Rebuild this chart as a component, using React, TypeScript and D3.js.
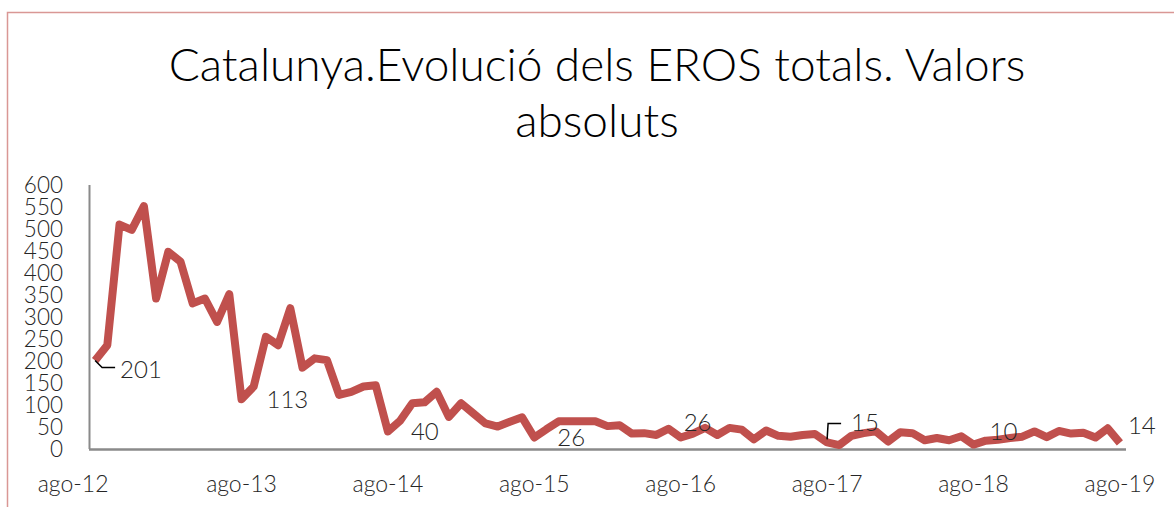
import React, { useEffect, useRef } from 'react'
import * as d3 from 'd3'

const monthNames = ['ene', 'feb', 'mar', 'abr', 'may', 'jun', 'jul', 'ago', 'sep', 'oct', 'nov', 'dic']
const years = [12, 13, 14, 15, 16, 17, 18, 19]

// monthly categories ago-12 .. ago-19
const categories: string[] = []
years.forEach(yr => monthNames.forEach((m, i) => {
    if ((yr === 12 && i < 7) || (yr === 19 && i > 7)) return
    categories.push(`${m}-${yr}`)
}))

const eros = [
    201, 236, 510, 498, 552, 342, 448, 426, 331, 342, 289, 352,
    113, 142, 255, 236, 320, 185, 206, 202, 123, 130, 142, 145,
    40, 64, 104, 106, 130, 73, 104, 81, 58, 51, 62, 72,
    26, 45, 63, 63, 63, 63, 52, 54, 35, 36, 32, 46,
    26, 35, 48, 32, 48, 44, 22, 42, 30, 28, 32, 34,
    15, 9, 30, 36, 40, 17, 38, 36, 20, 25, 20, 29,
    10, 19, 21, 25, 28, 40, 27, 41, 35, 37, 26, 47,
    14
]

const yTicks = [0, 50, 100, 150, 200, 250, 300, 350, 400, 450, 500, 550, 600]
const xTickLabels = ['ago-12', 'ago-13', 'ago-14', 'ago-15', 'ago-16', 'ago-17', 'ago-18', 'ago-19']
const labelled = ['ago-12', 'ago-13', 'ago-14', 'ago-15', 'ago-16', 'ago-17', 'ago-18', 'ago-19']

const titleLines = ['Catalunya.Evolució dels EROS totals. Valors', 'absoluts']

const W = 1174, H = 507
const FONT = 'Lato, "Open Sans", sans-serif'

export default function App() {
    const svgRef = useRef<SVGSVGElement>(null)

    useEffect(() => {
        const svg = d3.select(svgRef.current)
        svg.selectAll('*').remove()

        const x = d3.scaleBand().domain(categories).range([89, 1126]).padding(0)
        const y = d3.scaleLinear().domain([0, 600]).range([449, 185])
        const cx = (c: string) => (x(c) as number) + x.bandwidth() / 2

        // outer frame
        svg.append('rect')
            .attr('x', 7.5).attr('y', 12.5)
            .attr('width', W + 20).attr('height', H + 20)
            .attr('fill', 'none').attr('stroke', '#D99795').attr('stroke-width', 1.5)

        // title
        svg.append('g').selectAll('text')
            .data(titleLines)
            .enter().append('text')
            .attr('x', 597)
            .attr('y', (d, i) => 81 + i * 56)
            .attr('text-anchor', 'middle')
            .attr('font-family', FONT).attr('font-weight', 300)
            .attr('font-size', 46).attr('fill', '#000')
            .text(d => d)

        // y axis
        svg.append('line')
            .attr('x1', 89.5).attr('x2', 89.5)
            .attr('y1', y(600)).attr('y2', y(0))
            .attr('stroke', '#8a8a8a').attr('stroke-width', 2)

        svg.append('g').selectAll('text')
            .data(yTicks)
            .enter().append('text')
            .attr('x', 63)
            .attr('y', d => y(d))
            .attr('dy', '0.36em')
            .attr('text-anchor', 'end')
            .attr('font-family', FONT).attr('font-weight', 300)
            .attr('font-size', 22.5).attr('fill', '#262626')
            .text(d => d)

        // x axis
        svg.append('line')
            .attr('x1', 89).attr('x2', 1126)
            .attr('y1', y(0) + 0.5).attr('y2', y(0) + 0.5)
            .attr('stroke', '#8a8a8a').attr('stroke-width', 2.5)

        svg.append('g').selectAll('text')
            .data(xTickLabels)
            .enter().append('text')
            .attr('x', (d, i) => cx(d) + (i === 0 ? -22 : 0))
            .attr('y', 492)
            .attr('text-anchor', 'middle')
            .attr('font-family', FONT).attr('font-weight', 300)
            .attr('font-size', 23).attr('fill', '#262626')
            .text(d => d)

        // series line
        const line = d3.line<number>()
            .x((d, i) => cx(categories[i]))
            .y(d => y(d))

        svg.append('path')
            .datum(eros)
            .attr('d', line)
            .attr('fill', 'none')
            .attr('stroke', '#C0504D')
            .attr('stroke-width', 8)
            .attr('stroke-linejoin', 'round')

        // data labels: offsets relative to the point
        const offsets: Record<string, [number, number, string]> = {
            'ago-12': [25, 9, 'start'],
            'ago-13': [25, 0, 'start'],
            'ago-14': [23, 0, 'start'],
            'ago-15': [23, 0, 'start'],
            'ago-16': [3, -15, 'start'],
            'ago-17': [24, -20, 'start'],
            'ago-18': [16, -13, 'start'],
            'ago-19': [8, -17, 'start'],
        }

        const lbl = svg.append('g')
        labelled.forEach(c => {
            const v = eros[categories.indexOf(c)]
            const px = cx(c), py = y(v)
            const [dx, dy, anchor] = offsets[c]
            lbl.append('text')
                .attr('x', px + dx).attr('y', py + dy)
                .attr('dy', '0.36em')
                .attr('text-anchor', anchor)
                .attr('font-family', FONT).attr('font-weight', 300)
                .attr('font-size', 24).attr('fill', '#262626')
                .text(v)
        })

        // leader lines
        const p0 = [cx('ago-12'), y(eros[0])]
        lbl.append('path')
            .attr('d', `M${p0[0]},${p0[1]}L${p0[0] + 7},${p0[1] + 7}L${p0[0] + 20},${p0[1] + 7}`)
            .attr('fill', 'none').attr('stroke', '#000').attr('stroke-width', 1.5)
        const i17 = categories.indexOf('ago-17')
        const p1 = [cx('ago-17'), y(eros[i17])]
        lbl.append('path')
            .attr('d', `M${p1[0]},${p1[1] - 3}L${p1[0] + 1},${p1[1] - 19}L${p1[0] + 14},${p1[1] - 19}`)
            .attr('fill', 'none').attr('stroke', '#000').attr('stroke-width', 1.5)
    }, [])

    return (
        <svg ref={svgRef} width={W} height={H}
             style={{ position: 'absolute', left: 0, top: 0, background: '#fff' }} />
    )
}
